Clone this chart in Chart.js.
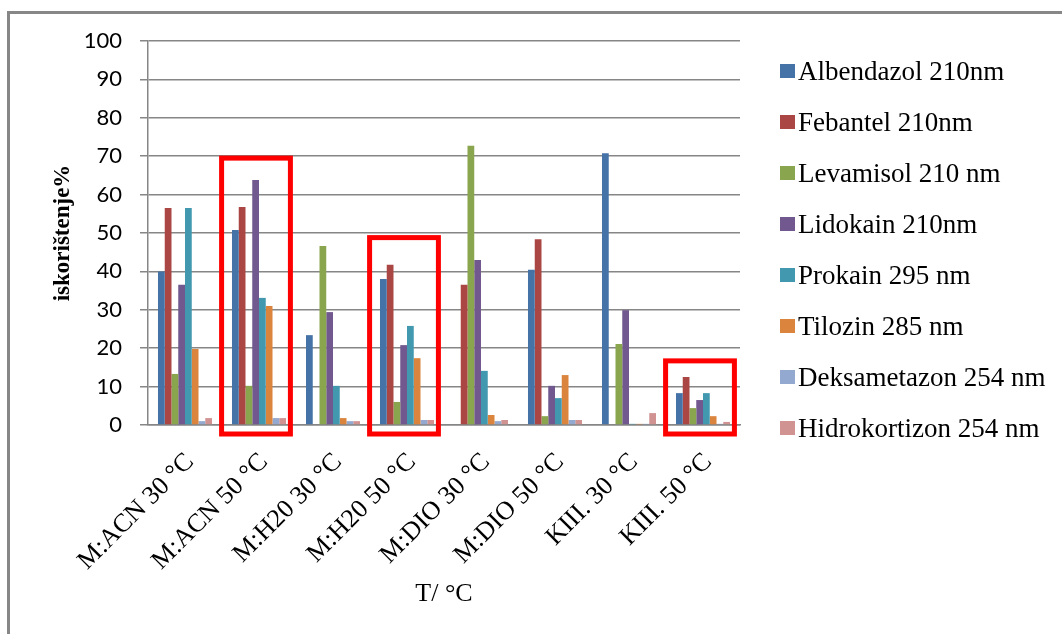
<!DOCTYPE html>
<html>
<head>
<meta charset="utf-8">
<script src="https://cdn.jsdelivr.net/npm/chart.js@4.4.1/dist/chart.umd.min.js"></script>
<style>
  html, body { margin: 0; padding: 0; background: #fff; overflow: hidden; }
  #wrap { position: relative; width: 1062px; height: 634px; }
  #frame {
    position: absolute; left: 7px; top: 11px; width: 1100px; height: 700px;
    border-left: 3px solid #878787; border-top: 3px solid #878787;
  }
  #chart { position: absolute; left: 0; top: 0; }
  #legend { position: absolute; left: 780px; top: 0; font-family: "Liberation Serif", serif; font-size: 27px; color: #000; }
  .item { position: absolute; left: 0; white-space: nowrap; height: 30px; line-height: 30px; }
  .box { position: absolute; left: 0; top: 8px; width: 15px; height: 14px; }
  .lbl { position: absolute; left: 18px; top: 0; }
</style>
</head>
<body>
<div id="wrap">
  <div id="frame"></div>
  <canvas id="chart" width="1062" height="634"></canvas>
  <div id="legend"></div>
</div>
<script>
/* =====================================================
   DATA
===================================================== */
const categories = [
  "M:ACN 30 °C", "M:ACN 50 °C", "M:H20 30 °C", "M:H20 50 °C",
  "M:DIO 30 °C", "M:DIO 50 °C", "KIII. 30 °C", "KIII. 50 °C"
];

const seriesNames = [
  "Albendazol 210nm", "Febantel 210nm", "Levamisol 210 nm", "Lidokain 210nm",
  "Prokain 295 nm", "Tilozin 285 nm", "Deksametazon 254 nm", "Hidrokortizon 254 nm"
];

const albendazol    = [40.0, 50.8, 23.4, 38.0, 0,    40.4, 70.8, 8.3];
const febantel      = [56.5, 56.8, 0,    41.7, 36.5, 48.4, 0,    12.5];
const levamisol     = [13.3, 10.2, 46.6, 6.0,  72.7, 2.3,  21.1, 4.4];
const lidokain      = [36.5, 63.8, 29.4, 20.8, 43.0, 10.2, 29.9, 6.5];
const prokain       = [56.5, 33.1, 10.2, 25.8, 14.1, 7.0,  0.3,  8.3];
const tilozin       = [19.8, 31.0, 1.8,  17.4, 2.6,  13.0, 0.3,  2.3];
const deksametazon  = [1.0,  1.8,  1.0,  1.3,  1.0,  1.3,  0.3,  0.3];
const hidrokortizon = [1.8,  1.8,  1.0,  1.3,  1.3,  1.3,  3.1,  0.8];

const yTicks = [0, 10, 20, 30, 40, 50, 60, 70, 80, 90, 100];

// highlighted groups (red boxes) and the value their box reaches up to
const highlightGroups = [1, 3, 7];
const highlightTops   = [69.5, 48.8, 16.7];

const colors = ["#4572A7", "#AA4643", "#89A54E", "#71588F", "#4198AF", "#DB843D", "#93A9CF", "#D19392"];

const allSeries = [albendazol, febantel, levamisol, lidokain, prokain, tilozin, deksametazon, hidrokortizon];


/* =====================================================
   LEGEND (html)
===================================================== */
const legendEl = document.getElementById("legend");
seriesNames.forEach((name, i) => {
  const row = document.createElement("div");
  row.className = "item";
  row.style.top = (56 + i * 51) + "px";
  row.innerHTML = `<span class="box" style="background:${colors[i]}"></span><span class="lbl">${name}</span>`;
  legendEl.appendChild(row);
});


/* =====================================================
   RED BOXES PLUGIN
===================================================== */
const redBoxes = {
  id: "redBoxes",
  afterDatasetsDraw(chart) {
    const { ctx, scales: { x, y } } = chart;
    const catW = (x.right - x.left) / categories.length;
    ctx.save();
    ctx.strokeStyle = "#ff0000";
    ctx.lineWidth = 5;
    highlightGroups.forEach((g, i) => {
      const cx = x.getPixelForValue(g) - 3;
      const half = catW * 0.465;
      const top = y.getPixelForValue(highlightTops[i]);
      const bottom = y.getPixelForValue(0) + 9;
      ctx.strokeRect(cx - half, top, half * 2, bottom - top);
    });
    ctx.restore();
  }
};


/* =====================================================
   CHART
===================================================== */
const gridColor = "#868686";

new Chart(document.getElementById("chart").getContext("2d"), {
  type: "bar",
  data: {
    labels: categories,
    datasets: allSeries.map((vals, i) => ({
      label: seriesNames[i],
      data: vals,
      backgroundColor: colors[i],
      borderWidth: 0,
      categoryPercentage: 0.73,
      barPercentage: 1.0
    }))
  },
  options: {
    responsive: false,
    animation: false,
    layout: { padding: { left: 49, right: 322, top: 41, bottom: 24 } },
    plugins: {
      legend: { display: false },
      tooltip: { enabled: false }
    },
    scales: {
      x: {
        grid: { display: false, drawTicks: false },
        border: { display: true, color: gridColor, width: 1.5 },
        ticks: {
          color: "#000",
          font: { family: "'Liberation Serif', serif", size: 26 },
          minRotation: 45,
          maxRotation: 45,
          autoSkip: false,
          labelOffset: 5,
          padding: 22
        },
        title: {
          display: true,
          text: "T/ °C",
          color: "#000",
          font: { family: "'Liberation Serif', serif", size: 26 },
          padding: 0
        },
        afterFit: s => { s.height = 185; }
      },
      y: {
        min: 0,
        max: 100,
        afterBuildTicks: s => { s.ticks = yTicks.map(v => ({ value: v })); },
        grid: { color: gridColor, lineWidth: 1.5, drawTicks: true, tickLength: 8, tickColor: gridColor },
        border: { display: true, color: gridColor, width: 1.5 },
        ticks: {
          color: "#000",
          font: { family: "Lato, sans-serif", size: 22 },
          padding: 18
        },
        title: {
          display: true,
          text: "iskorištenje%",
          color: "#000",
          font: { family: "'Liberation Serif', serif", size: 23, weight: "bold" },
          padding: 0
        },
        afterFit: s => { s.width = 99; }
      }
    }
  },
  plugins: [redBoxes]
});
</script>
</body>
</html>
